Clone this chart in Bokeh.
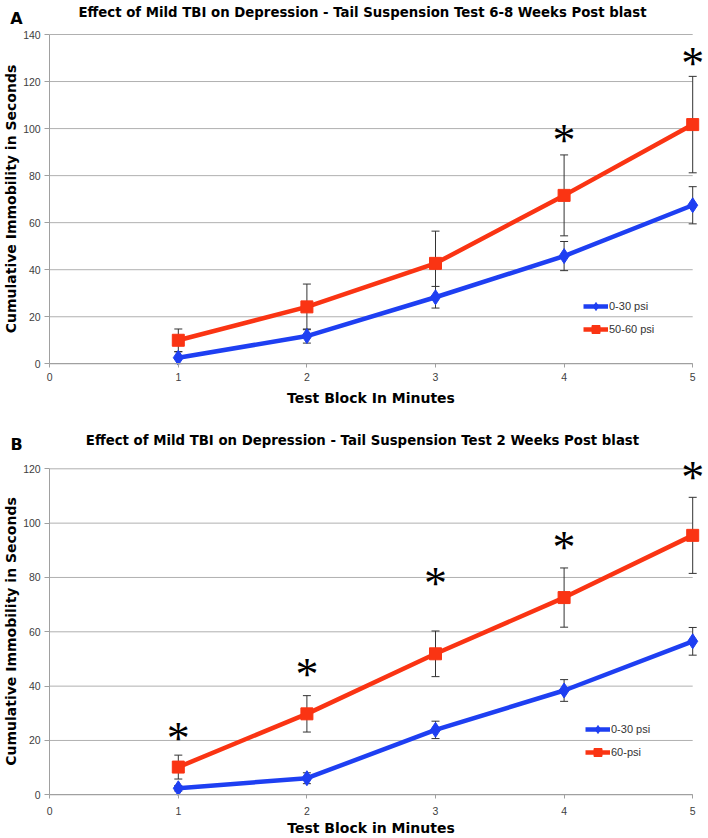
from bokeh.plotting import figure
from bokeh.models import (Range1d, Whisker, ColumnDataSource, Label, LabelSet,
                          Legend, LegendItem, FixedTicker)
from bokeh.layouts import column
from bokeh.embed import file_html
from bokeh.resources import INLINE

# ---------------- data ----------------
minutes = [1, 2, 3, 4, 5]
x_ticks = [0, 1, 2, 3, 4, 5]

a_title = "Effect of Mild TBI on Depression - Tail Suspension Test 6-8 Weeks Post blast"
a_xlabel = "Test Block In Minutes"
a_yticks = [0, 20, 40, 60, 80, 100, 120, 140]
a_low_label = "0-30 psi"
a_low_mean = [2.6, 11.8, 28.3, 45.8, 67.4]
a_low_err = [2.5, 3.0, 4.6, 6.2, 7.9]
a_high_label = "50-60 psi"
a_high_mean = [10.0, 24.2, 42.7, 71.6, 101.7]
a_high_err = [4.8, 9.7, 13.7, 17.2, 20.5]
a_star_x = [4, 5]
a_star_y = [97, 130]

b_title = "Effect of Mild TBI on Depression - Tail Suspension Test 2 Weeks Post blast"
b_xlabel = "Test Block in Minutes"
b_yticks = [0, 20, 40, 60, 80, 100, 120]
b_low_label = "0-30 psi"
b_low_mean = [2.4, 6.1, 23.9, 38.4, 56.5]
b_low_err = [1.0, 2.0, 3.2, 4.0, 5.1]
b_high_label = "60-psi"
b_high_mean = [10.2, 29.8, 51.9, 72.6, 95.5]
b_high_err = [4.4, 6.7, 8.4, 10.9, 14.0]
b_star_x = [1, 2, 3, 4, 5]
b_star_y = [22.7, 46, 79.7, 93, 118.8]

ylabel = "Cumulative Immobility in Seconds"

# ---------------- style ----------------
BLUE = "#1e3ff2"
RED = "#fa3413"
GRID = "#b0b0b0"
AXIS = "#a0a0a0"
TICKTXT = "#404040"
BOLD_FONT = "DejaVu Sans"
TICK_FONT = "Liberation Sans"
W = 708


def panel(letter, title, xlabel, yticks, low_label, low_mean, low_err,
          high_label, high_mean, high_err, star_x, star_y,
          height, x0_px, x_unit_px, y0_px, top_px, legend_loc,
          tick_standoff, xlab_standoff, title_y_px, letter_y_px):
    ymax = yticks[-1]
    y_unit_px = (y0_px - top_px) / ymax
    x_range = Range1d(-x0_px / x_unit_px, (W - x0_px) / x_unit_px)
    y_range = Range1d(-(height - y0_px) / y_unit_px, y0_px / y_unit_px)

    def px_x(px):
        return (px - x0_px) / x_unit_px

    def px_y(px):
        return (y0_px - px) / y_unit_px

    p = figure(width=W, height=height, x_range=x_range, y_range=y_range,
               output_backend="svg", toolbar_location=None, min_border=0)
    p.outline_line_color = None
    p.background_fill_color = "white"
    p.xgrid.visible = False
    p.ygrid.visible = False

    # horizontal grid lines between x = 0 and x = 5
    n = len(yticks)
    g = p.segment(x0=[x_ticks[0]] * n, x1=[x_ticks[-1]] * n, y0=yticks, y1=yticks,
                  line_color=GRID, line_width=1)
    g.level = "underlay"

    p.xaxis.ticker = FixedTicker(ticks=x_ticks)
    p.yaxis.ticker = FixedTicker(ticks=yticks)
    p.xaxis.fixed_location = 0
    p.yaxis.fixed_location = 0
    p.xaxis.bounds = (x_ticks[0], x_ticks[-1])
    p.yaxis.bounds = (yticks[0], yticks[-1])
    for ax in (p.xaxis, p.yaxis):
        ax.axis_line_color = AXIS
        ax.major_tick_line_color = AXIS
        ax.minor_tick_line_color = None
        ax.major_tick_in = 0
        ax.major_label_text_font = TICK_FONT
        ax.major_label_text_font_size = "10.5px"
        ax.major_label_text_color = TICKTXT
        ax.axis_label_text_font = BOLD_FONT
        ax.axis_label_text_font_style = "bold"
        ax.axis_label_text_font_size = "14px"
        ax.axis_label_text_color = "black"
    p.xaxis.major_tick_out = 4
    p.yaxis.major_tick_out = 5
    p.xaxis.major_label_standoff = tick_standoff
    p.yaxis.major_label_standoff = 4
    p.xaxis.axis_label = xlabel
    p.yaxis.axis_label = ylabel
    p.xaxis.axis_label_standoff = xlab_standoff
    p.yaxis.axis_label_standoff = 1

    # error bars (under the lines)
    for mean, err in ((low_mean, low_err), (high_mean, high_err)):
        src = ColumnDataSource(dict(x=minutes,
                                    lo=[m - e for m, e in zip(mean, err)],
                                    hi=[m + e for m, e in zip(mean, err)]))
        w = Whisker(base="x", lower="lo", upper="hi", source=src,
                    line_color="#333333", line_width=1, level="underlay")
        w.upper_head.size = 8
        w.lower_head.size = 8
        w.upper_head.line_color = "#333333"
        w.lower_head.line_color = "#333333"
        p.add_layout(w)

    l1 = p.line(minutes, low_mean, line_color=BLUE, line_width=4.5)
    s1 = p.scatter(minutes, low_mean, marker="diamond", size=15,
                   fill_color=BLUE, line_color=BLUE)
    l2 = p.line(minutes, high_mean, line_color=RED, line_width=4.5)
    s2 = p.scatter(minutes, high_mean, marker="square", size=12,
                   fill_color=RED, line_color=RED)

    legend = Legend(items=[LegendItem(label=low_label, renderers=[l1, s1]),
                           LegendItem(label=high_label, renderers=[l2, s2])],
                    location=legend_loc, glyph_width=25, glyph_height=20,
                    label_height=20, spacing=3, padding=0, margin=0,
                    border_line_color=None, background_fill_alpha=0,
                    label_text_font=TICK_FONT, label_text_font_size="11px",
                    label_text_color="#333333", label_standoff=1)
    p.add_layout(legend)

    stars = ColumnDataSource(dict(x=star_x, y=star_y, t=["*"] * len(star_x)))
    p.add_layout(LabelSet(x="x", y="y", text="t", source=stars,
                          text_font="DejaVu Sans", text_font_size="46px",
                          text_align="center", text_baseline="middle",
                          y_offset=-5, text_color="black"))

    p.add_layout(Label(x=px_x(362), y=px_y(title_y_px), text=title,
                       text_font=BOLD_FONT, text_font_style="bold",
                       text_font_size="13.3px", text_align="center",
                       text_baseline="middle", text_color="black"))
    p.add_layout(Label(x=px_x(16), y=px_y(letter_y_px), text=letter,
                       text_font=BOLD_FONT, text_font_style="bold",
                       text_font_size="16px", text_align="center",
                       text_baseline="middle", text_color="black"))
    return p


# pixel positions below are in figure coordinates
pa = panel("A", a_title, a_xlabel, a_yticks, a_low_label, a_low_mean, a_low_err,
           a_high_label, a_high_mean, a_high_err, a_star_x, a_star_y,
           height=418, x0_px=49.2, x_unit_px=128.6, y0_px=363.3, top_px=34,
           legend_loc=(583, 79), tick_standoff=5, xlab_standoff=6,
           title_y_px=12, letter_y_px=18)
pb = panel("B", b_title, b_xlabel, b_yticks, b_low_label, b_low_mean, b_low_err,
           b_high_label, b_high_mean, b_high_err, b_star_x, b_star_y,
           height=420, x0_px=49.2, x_unit_px=128.6, y0_px=376.3, top_px=50.3,
           legend_loc=(585, 76), tick_standoff=8, xlab_standoff=2,
           title_y_px=22, letter_y_px=26)

layout = column(pa, pb, spacing=0)
open("out.html", "w").write(file_html(layout, INLINE))
